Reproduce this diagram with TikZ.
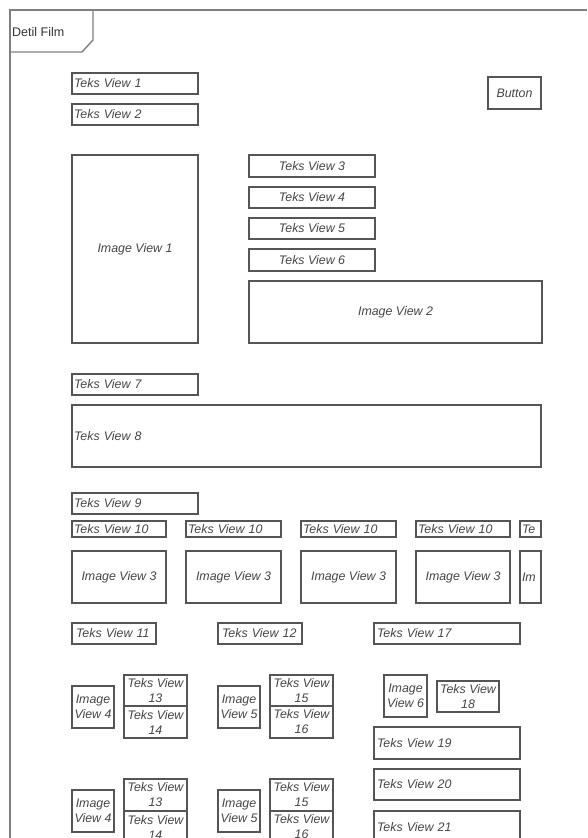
\documentclass[tikz,border=0pt]{standalone}
\usepackage{fontspec}
\setmainfont{Liberation Sans}
\definecolor{linec}{RGB}{85,85,85}
\definecolor{framec}{RGB}{128,128,128}
\definecolor{txtc}{RGB}{70,70,70}
\tikzset{
  bx/.style={draw=linec, line width=1.2pt, text=txtc, inner sep=0pt,
    font=\itshape\fontsize{12.4}{15}\selectfont},
  framestyle/.style={draw=framec, line width=1.4pt}
}
\newcommand\LB[7]{%
  \pgfmathsetmacro\tw{#4-2*#6}%
  \node[bx, text width=\tw pt, inner xsep=#6pt, align=left, minimum height=#5pt]
    (#1) at ({#2+#4/2},{#3+#5/2}) {#7};}
\newcommand\CB[6]{%
  \node[bx, minimum width=#4pt, minimum height=#5pt, align=center]
    (#1) at ({#2+#4/2},{#3+#5/2}) {#6};}
\begin{document}
\begin{tikzpicture}[x=1pt,y=-1pt]
\useasboundingbox (0,0) rectangle (587,838);
\clip (0,0) rectangle (587,838);
\fill[white] (0,0) rectangle (587,838);
% frame
\draw[framestyle] (10,838) -- (10,10) -- (587,10);
\draw[framestyle] (10,52) -- (82,52) -- (93,40) -- (93,10);
\node[anchor=west, inner sep=0pt, text=black!80, font=\fontsize{12.5}{14}\selectfont] (title) at (12,32) {Detil Film};
% top
\LB{tv1}{72}{73}{126}{21}{2}{Teks View 1}
\LB{tv2}{72}{104}{126}{21}{2}{Teks View 2}
\CB{btn}{488}{77}{53}{32}{Button}
\CB{iv1}{72}{155}{126}{188}{Image View 1}
\CB{tv3}{249}{155}{126}{22}{Teks View 3}
\CB{tv4}{249}{187}{126}{21}{Teks View 4}
\CB{tv5}{249}{218}{126}{21}{Teks View 5}
\CB{tv6}{249}{249}{126}{22}{Teks View 6}
\CB{iv2}{249}{281}{293}{62}{Image View 2}
\LB{tv7}{72}{374}{126}{21}{2}{Teks View 7}
\LB{tv8}{72}{405}{469}{62}{2}{Teks View 8}
\LB{tv9}{72}{493}{126}{21}{2}{Teks View 9}
% row of 10 / image 3
\LB{tva}{72}{521}{94}{16}{2}{Teks View 10}
\LB{tvb}{186}{521}{95}{16}{2}{Teks View 10}
\LB{tvc}{301}{521}{95}{16}{2}{Teks View 10}
\LB{tvd}{416}{521}{94}{16}{2}{Teks View 10}
\LB{tve}{520}{521}{21}{16}{2}{Te}
\CB{iva}{72}{551}{94}{52}{Image View 3}
\CB{ivb}{186}{551}{95}{52}{Image View 3}
\CB{ivc}{301}{551}{95}{52}{Image View 3}
\CB{ivd}{416}{551}{94}{52}{Image View 3}
\LB{ive}{520}{551}{21}{52}{2}{Im}
% row 11/12/17
\LB{tv11}{72}{623}{84}{21}{4}{Teks View 11}
\LB{tv12}{218}{623}{84}{21}{4}{Teks View 12}
\LB{tv17}{374}{623}{146}{21}{3}{Teks View 17}
% group 1
\CB{iv4}{72}{686}{42}{42}{Image\\View 4}
\CB{tv13}{124}{675}{63}{31}{Teks View\\13}
\CB{tv14}{124}{706}{63}{32}{Teks View\\14}
\CB{iv5}{218}{686}{42}{42}{Image\\View 5}
\CB{tv15}{270}{675}{63}{31}{Teks View\\15}
\CB{tv16}{270}{706}{63}{32}{Teks View\\16}
\CB{iv6}{384}{675}{43}{42}{Image\\View 6}
\CB{tv18}{437}{681}{62}{31}{Teks View\\18}
\LB{tv19}{374}{727}{146}{32}{3}{Teks View 19}
\LB{tv20}{374}{769}{146}{31}{3}{Teks View 20}
\LB{tv21}{374}{811}{146}{32}{3}{Teks View 21}
% group 2
\CB{iv4b}{72}{790}{42}{42}{Image\\View 4}
\CB{tv13b}{124}{779}{63}{32}{Teks View\\13}
\CB{tv14b}{124}{811}{63}{32}{Teks View\\14}
\CB{iv5b}{218}{790}{42}{42}{Image\\View 5}
\CB{tv15b}{270}{779}{63}{32}{Teks View\\15}
\CB{tv16b}{270}{811}{63}{32}{Teks View\\16}
\end{tikzpicture}
\end{document}
